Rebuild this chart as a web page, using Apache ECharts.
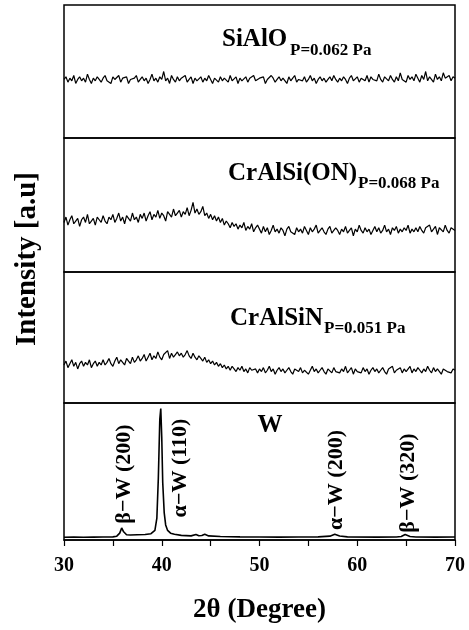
<!DOCTYPE html>
<html>
<head>
<meta charset="utf-8">
<script src="https://cdn.jsdelivr.net/npm/echarts@6/dist/echarts.min.js"></script>
<style>
  html, body { margin: 0; padding: 0; background: #fff; }
  #chart { width: 469px; height: 630px; }
</style>
</head>
<body>
<div id="chart"></div>
<script>
// 2theta grid for the noisy scans: 30 .. 70 step 0.2 (201 points)
var xStart = 30, xStep = 0.2;

var sialo = [
  44,46,42,45,43,47,41,44,46,43,45,42,48,44,41,45,43,46,44,42,
  45,47,43,44,41,46,44,43,47,42,45,44,46,41,44,43,45,47,42,44,
  46,43,45,41,44,48,43,45,42,46,44,50,43,45,41,47,44,42,46,43,
  45,44,47,42,44,46,41,45,43,44,46,42,45,43,47,44,41,45,44,42,
  46,43,45,44,42,47,43,44,46,41,45,43,44,46,42,45,44,47,43,42,
  45,44,46,41,44,43,47,45,42,44,46,43,45,44,41,46,43,45,47,42,
  44,45,43,46,42,44,47,43,45,41,44,46,43,45,42,44,46,43,47,44,
  42,45,43,46,44,41,45,47,43,44,46,42,45,44,43,47,42,46,44,45,
  43,48,44,42,46,45,43,47,44,42,46,43,49,44,45,42,47,44,46,43,
  48,45,42,47,44,50,43,46,45,42,48,44,46,43,49,45,44,47,43,46,
  45
];

var cralsion = [
  37,41,35,39,42,36,38,40,34,39,41,37,43,36,38,40,35,41,39,37,
  42,38,36,41,39,43,37,40,44,38,41,36,42,40,38,44,39,41,37,43,
  40,44,38,42,45,39,43,41,46,40,44,42,38,45,43,41,47,42,44,46,
  41,45,43,48,42,46,52,44,47,43,45,49,42,44,40,43,39,42,38,41,
  37,40,35,38,36,33,37,34,36,32,35,33,37,31,34,32,36,30,33,35,
  32,29,34,30,33,28,31,35,30,32,29,33,31,27,32,34,30,31,28,33,
  30,32,29,34,31,28,33,30,32,35,29,31,33,30,28,32,34,29,31,33,
  31,28,32,30,34,29,31,33,27,32,30,35,31,29,33,30,32,28,31,34,
  30,33,29,31,35,30,32,28,33,31,34,29,32,30,33,31,35,29,32,30,
  33,30,34,31,29,33,32,35,30,31,34,28,33,32,30,35,31,29,33,32,
  31
];

var cralsin = [
  29,32,27,30,33,28,31,26,30,32,28,31,29,33,27,30,32,28,31,29,
  33,29,31,34,30,28,32,35,30,33,31,29,34,32,30,35,31,33,36,32,
  34,37,32,35,38,33,36,34,39,35,33,37,36,40,34,38,35,37,39,36,
  38,35,37,40,36,34,38,35,33,36,34,32,35,31,33,30,32,29,31,28,
  30,27,29,26,28,25,28,26,24,27,25,28,24,26,23,27,25,24,26,23,
  26,24,27,23,25,28,24,26,22,25,27,24,26,23,25,27,24,22,26,25,
  24,27,23,25,26,22,25,28,24,26,23,25,27,24,22,26,25,23,27,24,
  25,23,26,24,28,23,25,27,22,26,24,25,23,27,24,26,22,25,27,24,
  26,23,25,27,24,22,26,25,28,23,25,24,27,23,26,24,25,28,23,26,
  24,27,25,23,26,24,28,25,23,27,24,26,25,22,26,27,24,25,23,26,
  25
];

// W reference film: [2theta, intensity]
var wAngles = [30,31,32,33,34,35,35.4,35.7,35.9,36.1,36.4,36.8,37.5,38.3,38.9,39.3,39.5,39.65,39.8,39.9,40.0,40.1,40.25,40.4,40.6,40.9,41.3,42,43,43.5,43.8,44.1,44.4,44.8,46,48,50,52,54,56,57.2,57.7,58.2,59,62,64,64.5,64.9,65.4,66,68,70];
var wCounts = [2,2.2,2,2.1,2.2,2.3,2.8,5,8.8,6,3.8,3.6,3.8,4,4.6,7,16,45,88,96,75,42,20,11,7,5,4.2,3.4,3,4,3.1,3.3,4.2,3,2.6,2.3,2.2,2.1,2.2,2.3,2.8,4.2,2.9,2.3,2.1,2.2,2.6,4,2.6,2.2,2.1,2.2];

var panelLabels = [
  { main: 'SiAlO', sub: 'P=0.062 Pa' },
  { main: 'CrAlSi(ON)', sub: 'P=0.068 Pa' },
  { main: 'CrAlSiN', sub: 'P=0.051 Pa' }
];
var peakLabels = ['\u03b2\u2212W (200)', '\u03b1\u2212W (110)', '\u03b1\u2212W (200)', '\u03b2\u2212W (320)'];

var xTicks = [30, 40, 50, 60, 70];

function toPairs(arr) {
  return arr.map(function (v, i) { return [+(xStart + i * xStep).toFixed(2), v]; });
}

var FONT = "'Liberation Serif', 'DejaVu Serif', serif";

var panels = [
  { top: 5, height: 133 },
  { top: 138, height: 134 },
  { top: 272, height: 131 },
  { top: 403, height: 137 }
];

var grids = [], xAxes = [], yAxes = [];
panels.forEach(function (p, i) {
  grids.push({ left: 64, right: 14, top: p.top, height: p.height, show: true, borderColor: '#000', borderWidth: 1.5, backgroundColor: 'transparent' });
  var last = i === panels.length - 1;
  xAxes.push({
    gridIndex: i, type: 'value', min: 30, max: 70, interval: 5,
    show: last,
    axisLine: { show: true, lineStyle: { color: '#000', width: 1.5 } },
    axisTick: { show: true, inside: false, length: 6, lineStyle: { color: '#000', width: 1.2 } },
    axisLabel: {
      margin: 16, color: '#000', fontFamily: FONT, fontWeight: 'bold', fontSize: 20,
      formatter: function (v) { return xTicks.indexOf(v) >= 0 ? String(v) : ''; }
    },
    splitLine: { show: false },
    name: last ? '2\u03b8 (Degree)' : '', nameLocation: 'middle', nameGap: 57,
    nameTextStyle: { color: '#000', fontFamily: FONT, fontWeight: 'bold', fontSize: 27 }
  });
  yAxes.push({ gridIndex: i, type: 'value', min: 0, max: 100, show: false });
});

var lineStyle = { color: '#000', width: 1.2 };
var series = [
  { type: 'line', xAxisIndex: 0, yAxisIndex: 0, data: toPairs(sialo), showSymbol: false, lineStyle: lineStyle },
  { type: 'line', xAxisIndex: 1, yAxisIndex: 1, data: toPairs(cralsion), showSymbol: false, lineStyle: lineStyle },
  { type: 'line', xAxisIndex: 2, yAxisIndex: 2, data: toPairs(cralsin), showSymbol: false, lineStyle: lineStyle },
  { type: 'line', xAxisIndex: 3, yAxisIndex: 3, data: wAngles.map(function (a, i) { return [a, wCounts[i]]; }),
    showSymbol: false, lineStyle: { color: '#000', width: 1.6 } }
];

function txt(x, y, text, size, opts) {
  opts = opts || {};
  return {
    type: 'text', x: x, y: y, rotation: opts.rotation || 0, z: 10,
    style: {
      text: text, fill: '#000', font: 'bold ' + size + 'px ' + FONT,
      align: opts.align || 'left', verticalAlign: 'middle'
    }
  };
}

var graphics = [
  txt(28, 259, 'Intensity [a.u]', 29, { align: 'center', rotation: Math.PI / 2 }),
  txt(222, 40, panelLabels[0].main, 25),
  txt(290, 51, panelLabels[0].sub, 17),
  txt(228, 174, panelLabels[1].main, 25),
  txt(358, 184, panelLabels[1].sub, 17),
  txt(230, 319, panelLabels[2].main, 25),
  txt(324, 329, panelLabels[2].sub, 17),
  txt(270, 426, 'W', 25, { align: 'center' }),
  txt(124, 474, peakLabels[0], 22, { align: 'center', rotation: Math.PI / 2 }),
  txt(180, 468, peakLabels[1], 22, { align: 'center', rotation: Math.PI / 2 }),
  txt(336, 480, peakLabels[2], 22, { align: 'center', rotation: Math.PI / 2 }),
  txt(408, 483, peakLabels[3], 22, { align: 'center', rotation: Math.PI / 2 })
];

var chart = echarts.init(document.getElementById('chart'));
chart.setOption({
  animation: false,
  backgroundColor: '#fff',
  grid: grids,
  xAxis: xAxes,
  yAxis: yAxes,
  series: series,
  graphic: graphics
});
</script>
</body>
</html>
